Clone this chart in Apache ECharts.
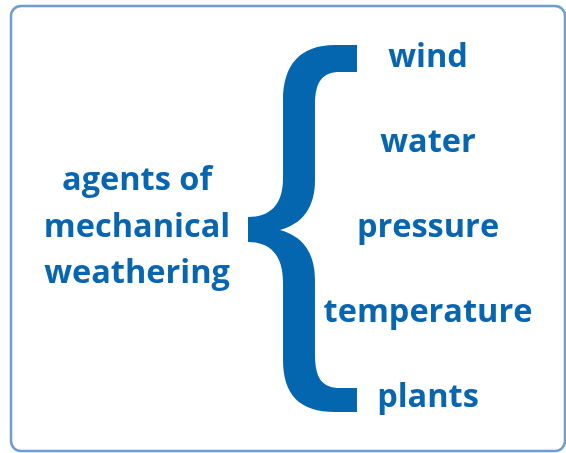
<!DOCTYPE html>
<html>
<head>
<meta charset="utf-8">
<script src="https://cdn.jsdelivr.net/npm/echarts@6/dist/echarts.min.js"></script>
<style>html,body{margin:0;padding:0;background:#fff}#main{width:566px;height:453px}</style>
</head>
<body>
<div id="main"></div>
<script>
var titleLines = ['agents of', 'mechanical', 'weathering'];
var agents = ['wind', 'water', 'pressure', 'temperature', 'plants'];

var textColor = '#0866b1';
var braceColor = '#0566b0';
var font = 'bold 32.5px "Open Sans"';
var bracePath = 'M357 45 L335 45 C300 45 283 65 283 100 L283 178 C283 205 270 217 248 217 L248 242 C270 242 283 255 283 282 L283 360 C283 395 300 412 335 412 L357 412 L357 388 L340 388 C322 388 315 378 315 355 L315 280 C315 252 302 236 280 230 C302 224 315 208 315 180 L315 105 C315 82 322 72 340 72 L357 72 Z';

var chart = echarts.init(document.getElementById('main'), null, {renderer: 'canvas'});

var elements = [];
elements.push({
  type: 'rect',
  z: -10,
  shape: {x: 11, y: 6, width: 554, height: 445, r: 10},
  style: {fill: '#fff', stroke: '#709bd3', lineWidth: 2.5}
});
var titleY0 = 181, titleGap = 46.5;
titleLines.forEach(function (t, i) {
  elements.push({
    type: 'text',
    style: {text: t, x: 137, y: titleY0 + i * titleGap, fill: textColor, font: font, align: 'center', verticalAlign: 'middle'}
  });
});
var agentY0 = 58, agentGap = 85;
agents.forEach(function (t, i) {
  elements.push({
    type: 'text',
    style: {text: t, x: 428, y: agentY0 + i * agentGap, fill: textColor, font: font, align: 'center', verticalAlign: 'middle'}
  });
});

chart.setOption({
  animation: false,
  graphic: {elements: elements},
  series: [{
    type: 'custom',
    coordinateSystem: 'none',
    silent: true,
    data: [[0]],
    renderItem: function () {
      return {
        type: 'path',
        shape: {pathData: bracePath, x: 248, y: 45, width: 109, height: 367},
        style: {fill: braceColor}
      };
    }
  }]
});
</script>
</body>
</html>
